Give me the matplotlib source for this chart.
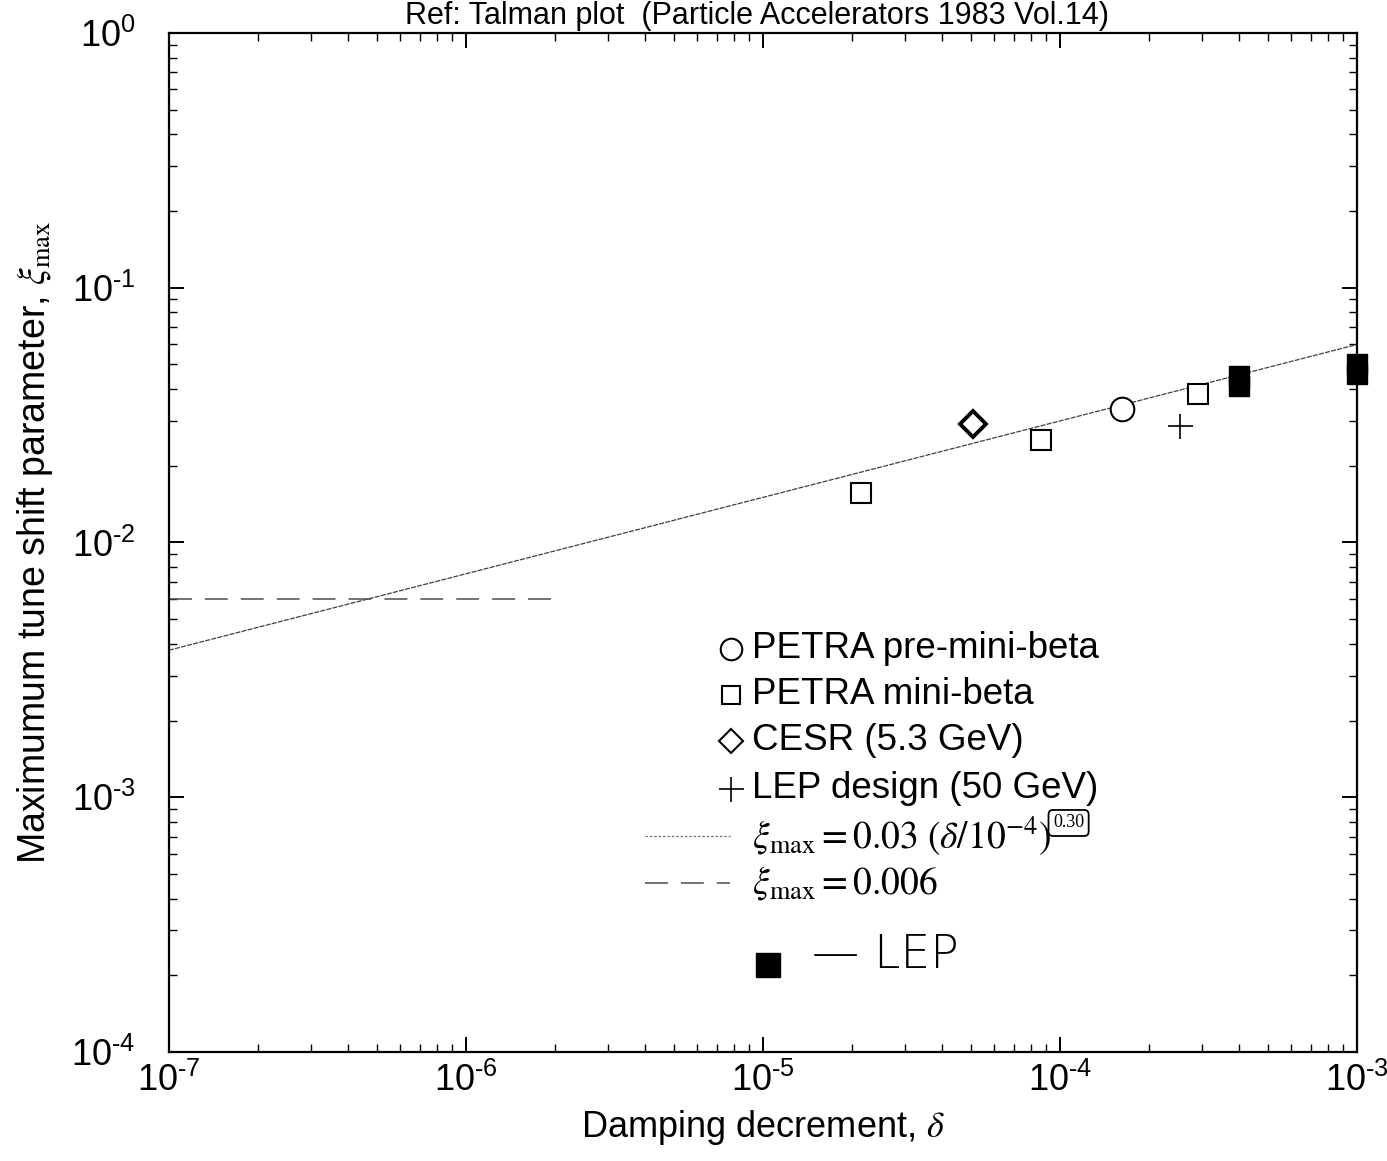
import numpy as np
import matplotlib; matplotlib.use("Agg")
import matplotlib.pyplot as plt
from matplotlib.ticker import LogLocator, FuncFormatter, NullFormatter

plt.rcParams['font.family'] = ['Liberation Sans', 'DejaVu Sans']
plt.rcParams['mathtext.fontset'] = 'stix'

# data
petra_pre_x = [1.62e-4]; petra_pre_y = [0.0334]
petra_mini_x = [2.14e-5, 8.6e-5, 2.92e-4]; petra_mini_y = [0.0156, 0.0252, 0.0383]
cesr_x = [5.1e-5]; cesr_y = [0.0292]
lep_design_x = [2.54e-4]; lep_design_y = [0.0286]
lep_x = [4.0e-4, 4.0e-4, 1.0e-3, 1.0e-3]; lep_y = [0.041, 0.045, 0.046, 0.050]
fit_a, fit_b = 0.03, 0.30
flat_val = 0.006
fit_x = [1e-7, 1e-3]
flat_x = [1e-7, 2.0e-6]

fig = plt.figure(figsize=(13.87, 11.61), dpi=100)
ax = fig.add_axes([0.1218, 0.0939, 0.9784-0.1218, 0.9716-0.0939])
ax.set_xscale('log'); ax.set_yscale('log')
ax.set_xlim(1e-7, 1e-3); ax.set_ylim(1e-4, 1)

xs = np.logspace(np.log10(fit_x[0]), np.log10(fit_x[1]), 200)
ax.plot(xs, fit_a*(xs/1e-4)**fit_b, color='0.25', lw=0.9, ls=(0, (4, 1)))
ax.plot(flat_x, [flat_val]*2, color='0.3', lw=1.1, ls=(0, (15, 8.5)))

ax.plot(petra_pre_x, petra_pre_y, 'o', ms=17, mfc='white', mec='k', mew=1.5)
ax.plot(petra_mini_x, petra_mini_y, 's', ms=14.5, mfc='white', mec='k', mew=1.5)
ax.plot(cesr_x, cesr_y, 'D', ms=13, mfc='white', mec='k', mew=2.8)
ax.plot(lep_design_x, lep_design_y, '+', ms=18, mec='k', mew=1.2)
ax.plot(lep_x, lep_y, 's', ms=15, mfc='k', mec='k', clip_on=False, zorder=5)

for s in ax.spines.values(): s.set_linewidth(1.6)
ax.xaxis.set_major_locator(LogLocator(base=10, numticks=10))
ax.yaxis.set_major_locator(LogLocator(base=10, numticks=10))
ax.xaxis.set_minor_locator(LogLocator(base=10, subs=np.arange(2, 10), numticks=20))
ax.yaxis.set_minor_locator(LogLocator(base=10, subs=np.arange(2, 10), numticks=20))

def fmt_exp(v, p):
    e = int(round(np.log10(v)))
    if e < 0:
        return r'$\mathregular{10^{\text{-}%d}}$' % (-e)
    return r'$\mathregular{10^{%d}}$' % e
fmt = FuncFormatter(fmt_exp)
ax.xaxis.set_major_formatter(fmt); ax.yaxis.set_major_formatter(fmt)
ax.xaxis.set_minor_formatter(NullFormatter()); ax.yaxis.set_minor_formatter(NullFormatter())
ax.tick_params(which='both', direction='in', top=True, right=True, labelsize=26)
ax.tick_params(which='major', length=11, width=1.4)
ax.tick_params(which='minor', length=6, width=1.0)
ax.tick_params(axis='y', pad=24)
ax.tick_params(axis='x', pad=8)

ax.set_xlabel(r'Damping decrement, $\delta$', fontsize=26, labelpad=6)
ax.set_ylabel(r'Maximumum tune shift parameter, $\xi_{\rm max}$', fontsize=27, labelpad=12)

fig.text(0.546, 1 - 1/1161, 'Ref: Talman plot  (Particle Accelerators 1983 Vol.14)',
         ha='center', va='top', fontsize=22)

# hand-made legend block
T = ax.transAxes
def px(x, y):
    return ((x - 169) / (1357 - 169), (1052 - y) / (1052 - 33))
leg_mk = [('o', 15.5, 1.5, 'PETRA pre-mini-beta'), ('s', 13, 1.5, 'PETRA mini-beta'),
          ('D', 12, 1.5, 'CESR (5.3 GeV)'), ('+', 18, 1.2, 'LEP design (50 GeV)')]
rows_y = [649, 695, 741, 789]
for (m, ms, mw, lab), yy in zip(leg_mk, rows_y):
    mx, my = px(731, yy)
    ax.plot([mx], [my], m, transform=T, ms=ms, mfc='white', mec='k', mew=mw, clip_on=False)
    tx, ty = px(752, yy)
    ax.text(tx, ty, lab, transform=T, fontsize=26.5, va='center', ha='left')

x0, y0 = px(645, 836); x1, _ = px(730, 836)
ax.plot([x0, x1], [y0, y0], transform=T, color='0.45', lw=0.9, ls=(0, (2, 1.5)))
tx, ty = px(752, 836)
ax.text(tx, ty, r'$\xi_{\rm max} = 0.03\ (\delta/10^{-4})$', transform=T, fontsize=27,
        va='center', ha='left')
bx, by = px(1053, 823)
ax.text(bx, by, '0.30', transform=T, fontsize=13, va='center', ha='left',
        family='Liberation Serif',
        bbox=dict(boxstyle='round,pad=0.25', fc='none', ec='k', lw=1.3))

x0, y0 = px(645, 883); x1, _ = px(730, 883)
ax.plot([x0, x1], [y0, y0], transform=T, color='0.3', lw=1.1, ls=(0, (15, 8.5)))
tx, ty = px(752, 883)
ax.text(tx, ty, r'$\xi_{\rm max} = 0.006$', transform=T, fontsize=27, va='center', ha='left')

mx, my = px(768, 965)
ax.plot([mx], [my], 's', transform=T, ms=17, mfc='k', mec='k', clip_on=False)
tx, ty = px(812, 955)
ax.text(tx, ty, '\u2014 LEP', transform=T, fontsize=34, va='center', ha='left',
        family='DejaVu Sans', fontweight='light')

fig.savefig('out.png', dpi=100)
